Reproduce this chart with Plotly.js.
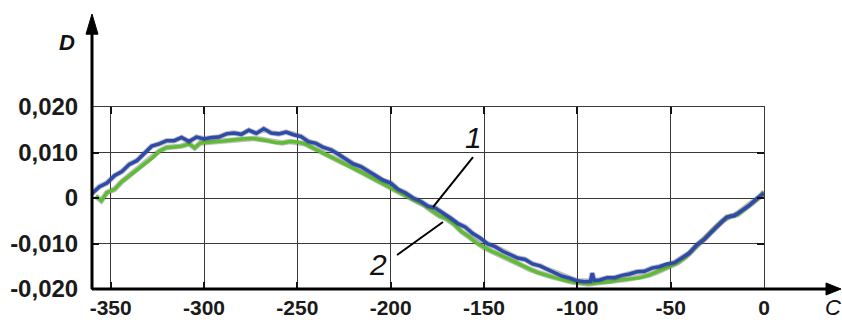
<!DOCTYPE html>
<html>
<head>
<meta charset="utf-8">
<script src="https://cdn.plot.ly/plotly-3.0.1.min.js"></script>
<style>html,body{margin:0;padding:0;background:#fff;}#chart{width:842px;height:320px;}</style>
</head>
<body>
<div id="chart"></div>
<script>
// Series 1 (blue)
const xSeries1 = [-360,-356,-352,-348,-344,-340,-336,-332,-328,-324,-320,-316,-312,-308,-304,-300,-296,-292,-288,-284,-280,-276,-272,-268,-264,-260,-256,-252,-248,-244,-240,-236,-232,-228,-224,-220,-216,-212,-208,-204,-200,-196,-192,-188,-184,-180,-176,-172,-168,-164,-160,-156,-152,-148,-144,-140,-136,-132,-128,-124,-120,-116,-112,-108,-104,-100,-96,-93,-92,-91,-88,-84,-80,-76,-72,-68,-64,-60,-56,-52,-48,-44,-40,-36,-32,-28,-24,-20,-16,-12,-8,-4,0];
const ySeries1 = [0.0010,0.0025,0.0033,0.0049,0.0058,0.0074,0.0082,0.0099,0.0114,0.0119,0.0126,0.0126,0.0133,0.0124,0.0134,0.0130,0.0133,0.0134,0.0141,0.0143,0.0140,0.0149,0.0142,0.0152,0.0143,0.0141,0.0145,0.0139,0.0135,0.0124,0.0120,0.0111,0.0106,0.0096,0.0086,0.0075,0.0069,0.0059,0.0049,0.0039,0.0033,0.0019,0.0011,0.0000,-0.0007,-0.0018,-0.0022,-0.0032,-0.0044,-0.0056,-0.0064,-0.0078,-0.0088,-0.0101,-0.0107,-0.0117,-0.0124,-0.0132,-0.0135,-0.0145,-0.0149,-0.0157,-0.0164,-0.0172,-0.0176,-0.0182,-0.0184,-0.0183,-0.0165,-0.0181,-0.0180,-0.0175,-0.0175,-0.0170,-0.0167,-0.0162,-0.0161,-0.0154,-0.0151,-0.0145,-0.0142,-0.0131,-0.0121,-0.0103,-0.0091,-0.0074,-0.0058,-0.0042,-0.0039,-0.0027,-0.0017,-0.0002,0.0010];

// Series 2 (green)
const xSeries2 = [-358,-355,-352,-348,-344,-340,-336,-332,-328,-324,-320,-316,-312,-308,-305,-302,-298,-294,-290,-286,-282,-278,-274,-270,-266,-262,-258,-254,-250,-246,-242,-238,-234,-230,-226,-222,-218,-214,-210,-206,-202,-198,-194,-190,-186,-182,-178,-174,-170,-166,-162,-158,-154,-150,-146,-142,-138,-134,-130,-126,-122,-118,-114,-110,-106,-102,-98,-94,-90,-86,-82,-78,-74,-70,-66,-62,-58,-54,-50,-46,-42,-38,-34,-30,-26,-22,-18,-14,-10,-6,-2,0];
const ySeries2 = [0.0004,-0.0006,0.0012,0.0019,0.0036,0.0049,0.0061,0.0075,0.0087,0.0103,0.0111,0.0112,0.0114,0.0119,0.0110,0.0121,0.0122,0.0123,0.0125,0.0127,0.0129,0.0130,0.0131,0.0129,0.0126,0.0122,0.0121,0.0124,0.0123,0.0119,0.0111,0.0102,0.0093,0.0086,0.0078,0.0070,0.0062,0.0053,0.0044,0.0035,0.0027,0.0018,0.0010,0.0001,-0.0008,-0.0016,-0.0028,-0.0039,-0.0046,-0.0058,-0.0074,-0.0085,-0.0099,-0.0109,-0.0117,-0.0124,-0.0132,-0.0141,-0.0148,-0.0156,-0.0163,-0.0168,-0.0173,-0.0178,-0.0182,-0.0185,-0.0187,-0.0189,-0.0187,-0.0186,-0.0184,-0.0181,-0.0179,-0.0176,-0.0175,-0.0170,-0.0164,-0.0157,-0.0150,-0.0142,-0.0130,-0.0113,-0.0098,-0.0082,-0.0065,-0.0050,-0.0040,-0.0036,-0.0024,-0.0011,0.0004,0.0014];

const xTickVals = [-350,-300,-250,-200,-150,-100,-50,0];
const xTickText = ['-350','-300','-250','-200','-150','-100','-50','0'];
const yTickVals = [-0.02,-0.01,0,0.01,0.02];
const yTickText = ['-0,020','-0,010','0','0,010','0,020'];
const seriesLabels = ['1','2'];
const axisLabelX = 'C';
const axisLabelY = 'D';

const FONT = 'Liberation Sans, Arial, Helvetica, sans-serif';
const halo = 'rgba(70,70,70,0.35)';

const traces = [
  {x:xSeries2,y:ySeries2,mode:'lines',line:{color:halo,width:5.5},hoverinfo:'skip'},
  {x:xSeries2,y:ySeries2,mode:'lines',line:{color:'#5fbd34',width:3.5},name:seriesLabels[1]},
  {x:xSeries1,y:ySeries1,mode:'lines',line:{color:halo,width:5.5},hoverinfo:'skip'},
  {x:xSeries1,y:ySeries1,mode:'lines',line:{color:'#2c4bab',width:3.5},name:seriesLabels[0]}
];

const axisCommon = {
  showgrid:true, gridcolor:'#3a3a3a', gridwidth:1,
  ticks:'inside', ticklen:7, tickwidth:2, tickcolor:'#111',
  showline:true, linecolor:'#3a3a3a', linewidth:1, mirror:'ticks',
  zeroline:false, fixedrange:true,
  tickfont:{family:FONT,size:24,color:'#1a1a1a',weight:'bold'}
};

const layout = {
  width:842, height:320,
  margin:{l:92,r:78,t:107,b:31},
  paper_bgcolor:'#fff', plot_bgcolor:'#fff',
  showlegend:false, hovermode:false,
  xaxis:Object.assign({}, axisCommon, {range:[-360,0], tickmode:'array', tickvals:xTickVals, ticktext:xTickText, ticklabelstandoff:0,
    tickfont:{family:FONT,size:21,color:'#1a1a1a',weight:'bold'}}),
  yaxis:Object.assign({}, axisCommon, {range:[-0.02,0.02], tickmode:'array', tickvals:yTickVals, ticktext:yTickText, ticklabelstandoff:8}),
  shapes:[
    {type:'line',xref:'paper',yref:'paper',x0:0,y0:0,x1:0,y1:1.43,line:{color:'#000',width:3}},
    {type:'path',xref:'paper',yref:'paper',path:'M 0 1.511 L -0.0089 1.40 L 0.0089 1.40 Z',fillcolor:'#000',line:{color:'#000',width:1}},
    {type:'line',xref:'paper',yref:'paper',x0:0,y0:0,x1:1.10,y1:0,line:{color:'#000',width:3}},
    {type:'path',xref:'paper',yref:'paper',path:'M 1.1146 0 L 1.0923 0.033 L 1.0923 -0.033 Z',fillcolor:'#000',line:{color:'#000',width:1}},
    {type:'line',xref:'paper',yref:'paper',x0:0.567,y0:0.725,x1:0.5074,y1:0.4505,line:{color:'#000',width:2}},
    {type:'line',xref:'paper',yref:'paper',x0:0.4539,y0:0.187,x1:0.5223,y1:0.368,line:{color:'#000',width:2}}
  ],
  annotations:[
    {xref:'paper',yref:'paper',x:0.567,y:0.835,xanchor:'center',yanchor:'middle',text:'<i>'+seriesLabels[0]+'</i>',showarrow:false,font:{family:FONT,size:30,color:'#111'}},
    {xref:'paper',yref:'paper',x:0.4256,y:0.132,xanchor:'center',yanchor:'middle',text:'<i>'+seriesLabels[1]+'</i>',showarrow:false,font:{family:FONT,size:30,color:'#111'}},
    {xref:'paper',yref:'paper',x:-0.0372,y:1.352,xanchor:'center',yanchor:'middle',text:'<b><i>'+axisLabelY+'</i></b>',showarrow:false,font:{family:FONT,size:22,color:'#111'}},
    {xref:'paper',yref:'paper',x:1.1027,y:-0.099,xanchor:'center',yanchor:'middle',text:'<i>'+axisLabelX+'</i>',showarrow:false,font:{family:FONT,size:22,color:'#111'}}
  ]
};

Plotly.newPlot('chart', traces, layout, {staticPlot:true, displayModeBar:false});
</script>
</body>
</html>
